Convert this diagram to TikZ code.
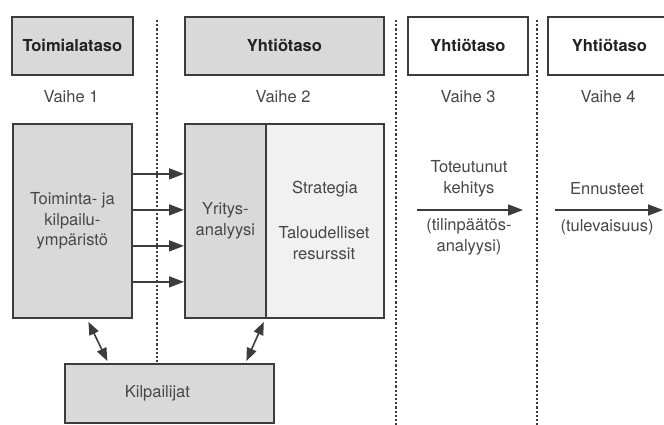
\documentclass[tikz,border=0pt]{standalone}
\usepackage{fontspec}
\setmainfont{TeX Gyre Heros}
\usetikzlibrary{arrows.meta}
\definecolor{boxgray}{HTML}{D9D9D9}
\definecolor{lightfill}{HTML}{F1F1F1}
\definecolor{edgecol}{HTML}{3C3C3C}
\definecolor{txt}{HTML}{474747}
\definecolor{ttl}{HTML}{222222}
\begin{document}
\begin{tikzpicture}[x=1pt,y=-1pt,
  box/.style={draw=edgecol, line width=1.8pt, inner sep=0pt, anchor=north west, align=center,
    font=\fontsize{16.5}{20.5}\selectfont, text=txt},
  titlebox/.style={box, minimum height=58pt, font=\fontsize{16.5}{20.5}\selectfont\bfseries, text=ttl},
  lbl/.style={inner sep=0pt, align=center, font=\fontsize{16.5}{20.5}\selectfont, text=txt},
  arr/.style={draw=edgecol, line width=1.6pt, -{Triangle[length=15pt,width=11pt]}},
  darr/.style={draw=edgecol, line width=1.6pt, {Triangle[length=13pt,width=10pt]}-{Triangle[length=13pt,width=10pt]}},
  sep/.style={draw=edgecol, line width=1.5pt, dash pattern=on 2.2pt off 2pt}
]
\clip (0,0) rectangle (664,425);
\fill[white] (0,0) rectangle (664,425);

% title boxes
\node[titlebox, fill=boxgray, minimum width=121pt] (t1) at (11,16) {Toimialataso};
\node[titlebox, fill=boxgray, minimum width=199pt] (t2) at (184,16) {Yhtiötaso};
\node[titlebox, fill=white, minimum width=120pt] (t3) at (407,16) {Yhtiötaso};
\node[titlebox, fill=white, minimum width=130pt, text width=122pt, align=left] (t4) at (547,16) {\hspace*{20pt}Yhtiötaso};

% phase labels
\node[lbl] (v1) at (71,97) {Vaihe 1};
\node[lbl] (v2) at (283,97) {Vaihe 2};
\node[lbl] (v3) at (468,97) {Vaihe 3};
\node[lbl] (v4) at (608,97) {Vaihe 4};

% main boxes
\node[box, fill=boxgray, minimum width=119pt, minimum height=194pt] (L) at (12,123) {Toiminta- ja\\kilpailu-\\ympäristö};
\node[box, fill=boxgray, minimum width=81pt, minimum height=194pt] (Ya) at (184,123) {Yritys-\\analyysi};
\node[box, fill=lightfill, minimum width=118pt, minimum height=194pt] (Yb) at (265,123) {};
\node[lbl] (s1) at (325,189) {Strategia};
\node[lbl] (s2) at (324,243) {Taloudelliset\\resurssit};
\node[box, fill=boxgray, minimum width=209pt, minimum height=59pt, text width=150pt] (K) at (64,363) {Kilpailijat\hspace*{24pt}};

% separators
\coordinate (d1a) at (157,20);
\coordinate (d2a) at (396,20);
\coordinate (d2b) at (396,425);
\coordinate (d3a) at (537,20);
\coordinate (d3b) at (537,425);
\draw[sep] (d1a) -- (d1a |- K.north);
\draw[sep] (d2a) -- (d2b);
\draw[sep] (d3a) -- (d3b);

% arrows left to right
\foreach \dy in {-47,-11,25,61}
  \draw[arr] ([yshift=-\dy pt]L.east) -- ([yshift=-\dy pt]Ya.west);

% double arrows
\draw[darr] ([xshift=16pt,yshift=-3pt]L.south) -- ([xshift=-62pt,yshift=2pt]K.north);
\draw[darr] ([xshift=-3pt,yshift=-3pt]Ya.south east) -- ([xshift=77pt,yshift=2pt]K.north);

% phase 3 and 4
\coordinate (a3s) at (417,210);
\coordinate (a3e) at (523,210);
\coordinate (a4s) at (555,210);
\coordinate (a4e) at (663,210);
\draw[arr] (a3s) -- (a3e);
\draw[arr] (a4s) -- (a4e);
\node[lbl] (p3a) at (469,179) {Toteutunut\\kehitys};
\node[lbl] (p3b) at (469,237) {(tilinpäätös-\\analyysi)};
\node[lbl] (p4a) at (607,189) {Ennusteet};
\node[lbl] (p4b) at (607,227) {(tulevaisuus)};
\end{tikzpicture}
\end{document}
